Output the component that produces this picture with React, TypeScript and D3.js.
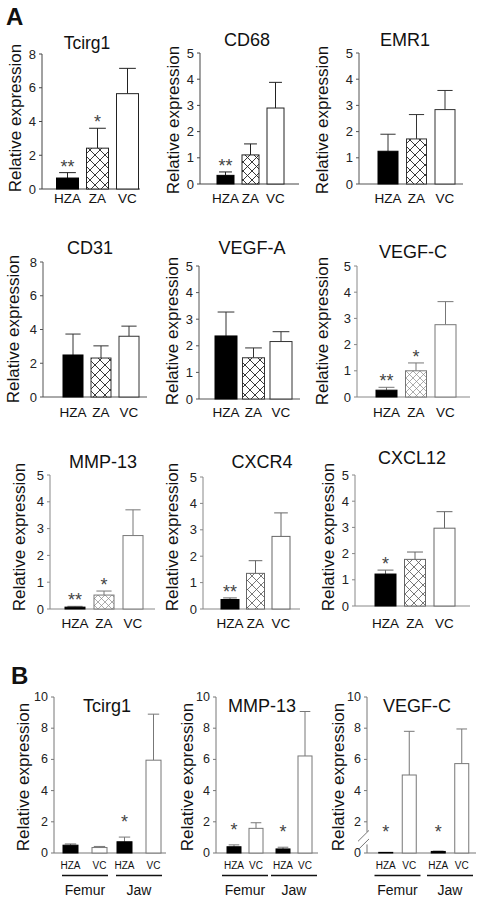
import React from "react";
import * as d3 from "d3";

// ---------- DATA ----------
const groupsA = ["HZA", "ZA", "VC"];

const tcirg1Mean = [0.65, 2.42, 5.65];
const tcirg1Sem = [0.32, 1.18, 1.5];
const tcirg1Sig = ["**", "*", ""];

const cd68Mean = [0.33, 1.11, 2.9];
const cd68Sem = [0.13, 0.42, 0.98];
const cd68Sig = ["**", "", ""];

const emr1Mean = [1.25, 1.72, 2.84];
const emr1Sem = [0.65, 0.93, 0.73];
const emr1Sig = ["", "", ""];

const cd31Mean = [2.49, 2.31, 3.6];
const cd31Sem = [1.24, 0.72, 0.6];
const cd31Sig = ["", "", ""];

const vegfaMean = [2.37, 1.55, 2.16];
const vegfaSem = [0.9, 0.37, 0.37];
const vegfaSig = ["", "", ""];

const vegfcMean = [0.26, 1.0, 2.76];
const vegfcSem = [0.11, 0.3, 0.88];
const vegfcSig = ["**", "*", ""];

const mmp13Mean = [0.07, 0.52, 2.74];
const mmp13Sem = [0.03, 0.15, 0.96];
const mmp13Sig = ["**", "*", ""];

const cxcr4Mean = [0.36, 1.35, 2.75];
const cxcr4Sem = [0.06, 0.48, 0.89];
const cxcr4Sig = ["**", "", ""];

const cxcl12Mean = [1.22, 1.78, 2.97];
const cxcl12Sem = [0.15, 0.28, 0.63];
const cxcl12Sig = ["*", "", ""];

const ticks8 = [0, 2, 4, 6, 8];
const ticks5 = [0, 1, 2, 3, 4, 5];
const ticks10 = [0, 2, 4, 6, 8, 10];

const sitesB = ["Femur", "Jaw"];
const groupsB = ["HZA", "VC"];

const tcirg1BMean = [0.5, 0.35, 0.72, 5.95];
const tcirg1BSem = [0.08, 0.07, 0.3, 2.95];
const tcirg1BSig = ["", "", "*", ""];

const mmp13BMean = [0.4, 1.58, 0.26, 6.22];
const mmp13BSem = [0.12, 0.36, 0.11, 2.85];
const mmp13BSig = ["*", "", "*", ""];

const vegfcBMean = [0.04, 5.0, 0.1, 5.73];
const vegfcBSem = [0.0, 2.8, 0.02, 2.22];
const vegfcBSig = ["*", "", "*", ""];

// ---------- LAYOUT ----------
type PanelA = {
  title: string; mean: number[]; sem: number[]; sig: string[];
  max: number; ticks: number[];
  ax: number; y0: number; yTop: number; xEnd: number;
  c0: number; step: number; bw: number;
  tx: number; ty: number; tsize: number;
  lx: number; ly: number; catY: number;
  hatch: string; ink: string; axisInk: string;
};

const FONT = "'Liberation Sans', Arial, Helvetica, sans-serif";

const panelsA: PanelA[] = [
  { title: "Tcirg1", mean: tcirg1Mean, sem: tcirg1Sem, sig: tcirg1Sig, max: 8, ticks: ticks8,
    ax: 42, y0: 189, yTop: 54, xEnd: 140, c0: 67.5, step: 30, bw: 22,
    tx: 87, ty: 49, tsize: 17.5, lx: 15, ly: 118, catY: 203, hatch: "hA", ink: "#222", axisInk: "#444" },
  { title: "CD68", mean: cd68Mean, sem: cd68Sem, sig: cd68Sig, max: 5, ticks: ticks5,
    ax: 200, y0: 184, yTop: 53, xEnd: 299, c0: 225.5, step: 25, bw: 17,
    tx: 247, ty: 46, tsize: 18, lx: 173, ly: 120, catY: 203, hatch: "hB", ink: "#222", axisInk: "#444" },
  { title: "EMR1", mean: emr1Mean, sem: emr1Sem, sig: emr1Sig, max: 5, ticks: ticks5,
    ax: 359, y0: 184, yTop: 53, xEnd: 463, c0: 388, step: 28.5, bw: 20,
    tx: 405, ty: 46, tsize: 18, lx: 322, ly: 120, catY: 203, hatch: "hA", ink: "#333", axisInk: "#555" },
  { title: "CD31", mean: cd31Mean, sem: cd31Sem, sig: cd31Sig, max: 8, ticks: ticks8,
    ax: 43, y0: 397, yTop: 262, xEnd: 147, c0: 73, step: 28, bw: 20,
    tx: 90, ty: 254, tsize: 18, lx: 13, ly: 329, catY: 417, hatch: "hA", ink: "#333", axisInk: "#555" },
  { title: "VEGF-A", mean: vegfaMean, sem: vegfaSem, sig: vegfaSig, max: 5, ticks: ticks5,
    ax: 199, y0: 399, yTop: 266, xEnd: 300, c0: 226, step: 27.5, bw: 22,
    tx: 252, ty: 254, tsize: 18, lx: 172, ly: 331, catY: 417, hatch: "hA", ink: "#333", axisInk: "#555" },
  { title: "VEGF-C", mean: vegfcMean, sem: vegfcSem, sig: vegfcSig, max: 5, ticks: ticks5,
    ax: 357, y0: 397, yTop: 266, xEnd: 470, c0: 386.5, step: 29.5, bw: 21,
    tx: 413, ty: 258, tsize: 18, lx: 322, ly: 331, catY: 417, hatch: "hC", ink: "#777", axisInk: "#888" },
  { title: "MMP-13", mean: mmp13Mean, sem: mmp13Sem, sig: mmp13Sig, max: 5, ticks: ticks5,
    ax: 50, y0: 609, yTop: 475, xEnd: 155, c0: 75, step: 29, bw: 20,
    tx: 103, ty: 468, tsize: 18, lx: 19, ly: 537, catY: 628, hatch: "hC", ink: "#777", axisInk: "#888" },
  { title: "CXCR4", mean: cxcr4Mean, sem: cxcr4Sem, sig: cxcr4Sig, max: 5, ticks: ticks5,
    ax: 203, y0: 609, yTop: 477, xEnd: 300, c0: 230, step: 25.5, bw: 18,
    tx: 262, ty: 468, tsize: 18, lx: 172, ly: 537, catY: 628, hatch: "hD", ink: "#666", axisInk: "#888" },
  { title: "CXCL12", mean: cxcl12Mean, sem: cxcl12Sem, sig: cxcl12Sig, max: 5, ticks: ticks5,
    ax: 355, y0: 606, yTop: 475, xEnd: 470, c0: 385.5, step: 29.5, bw: 21,
    tx: 412, ty: 464, tsize: 18, lx: 328, ly: 537, catY: 628, hatch: "hD", ink: "#666", axisInk: "#888" },
];

type PanelB = {
  title: string; mean: number[]; sem: number[]; sig: string[];
  ax: number; xEnd: number; g0: number; g1: number; inner: number; bw: number; lineHalf: number;
  tx: number; lx: number; brk?: boolean;
};

const B_Y0 = 853, B_TOP = 697;

const panelsB: PanelB[] = [
  { title: "Tcirg1", mean: tcirg1BMean, sem: tcirg1BSem, sig: tcirg1BSig,
    ax: 54, xEnd: 166, g0: 85, g1: 139, inner: 29, bw: 15, lineHalf: 23, tx: 107, lx: 23 },
  { title: "MMP-13", mean: mmp13BMean, sem: mmp13BSem, sig: mmp13BSig,
    ax: 216, xEnd: 318, g0: 245, g1: 294, inner: 22, bw: 14, lineHalf: 23, tx: 262, lx: 187 },
  { title: "VEGF-C", mean: vegfcBMean, sem: vegfcBSem, sig: vegfcBSig,
    ax: 367, xEnd: 476, g0: 397.5, g1: 450, inner: 23.5, bw: 14, lineHalf: 23, tx: 417, lx: 338, brk: true },
];

function PanelAView({ p }: { p: PanelA }) {
  const y = d3.scaleLinear().domain([0, p.max]).range([p.y0, p.yTop]);
  const x = d3.scaleBand<string>()
    .domain(groupsA)
    .range([p.c0 - p.step / 2, p.c0 + 2.5 * p.step])
    .paddingInner(1 - p.bw / p.step)
    .paddingOuter((1 - p.bw / p.step) / 2);
  const bw = x.bandwidth();
  const fills = ["#000", `url(#${p.hatch})`, "#fff"];
  return (
    <g>
      <text x={p.tx} y={p.ty} textAnchor="middle" fontSize={p.tsize} fill="#111">{p.title}</text>
      <text transform={`translate(${p.lx},${p.ly}) rotate(-90)`} textAnchor="middle"
        dominantBaseline="central" fontSize={17} fill="#111">Relative expression</text>
      <line x1={p.ax} x2={p.ax} y1={p.yTop} y2={p.y0} stroke={p.axisInk} />
      <line x1={p.ax} x2={p.xEnd} y1={p.y0} y2={p.y0} stroke={p.axisInk} />
      {p.ticks.map((t) => (
        <g key={t}>
          <line x1={p.ax - 3} x2={p.ax} y1={y(t)} y2={y(t)} stroke={p.axisInk} />
          <text x={p.ax - 6} y={y(t)} textAnchor="end" dominantBaseline="central" fontSize={13} fill="#222">{t}</text>
        </g>
      ))}
      {groupsA.map((g, i) => {
        const x0 = x(g)!;
        const cx = x0 + bw / 2;
        const top = y(p.mean[i]);
        const et = y(p.mean[i] + p.sem[i]);
        const cap = bw * 0.38;
        return (
          <g key={g}>
            <line x1={cx} x2={cx} y1={top} y2={et} stroke={p.ink} />
            <line x1={cx - cap} x2={cx + cap} y1={et} y2={et} stroke={p.ink} />
            <rect x={x0} y={top} width={bw} height={p.y0 - top} fill={fills[i]} stroke={i === 0 ? "#000" : p.ink} />
            {p.sig[i] && (
              <text x={cx} y={et} textAnchor="middle" fontSize={18} fill="#444">{p.sig[i]}</text>
            )}
            <text x={cx} y={p.catY} textAnchor="middle" fontSize={13.5} fill="#111">{g}</text>
          </g>
        );
      })}
    </g>
  );
}

function PanelBView({ p }: { p: PanelB }) {
  const y = d3.scaleLinear().domain([0, 10]).range([B_Y0, B_TOP]);
  const site = d3.scaleOrdinal<string, number>().domain(sitesB).range([p.g0, p.g1]);
  const inner = d3.scalePoint<string>().domain(groupsB).range([-p.inner / 2, p.inner / 2]);
  const items = sitesB.flatMap((s) => groupsB.map((g) => ({ s, g })));
  return (
    <g>
      <text x={p.tx} y={712} textAnchor="middle" fontSize={18} fill="#111">{p.title}</text>
      <text transform={`translate(${p.lx},${(B_Y0 + B_TOP) / 2 + 2}) rotate(-90)`} textAnchor="middle"
        dominantBaseline="central" fontSize={17} fill="#111">Relative expression</text>
      <line x1={p.ax} x2={p.ax} y1={B_TOP} y2={B_Y0} stroke="#777" />
      <line x1={p.ax} x2={p.xEnd} y1={B_Y0} y2={B_Y0} stroke="#777" />
      {ticks10.map((t) => (
        <g key={t}>
          <line x1={p.ax - 3} x2={p.ax} y1={y(t)} y2={y(t)} stroke="#777" />
          <text x={p.ax - 6} y={y(t)} textAnchor="end" dominantBaseline="central" fontSize={12.5} fill="#222">{t}</text>
        </g>
      ))}
      {p.brk && (
        <g>
          <line x1={p.ax} x2={p.ax} y1={y(0.55)} y2={y(1.35)} stroke="#fff" strokeWidth={3} />
          <line x1={p.ax - 9} x2={p.ax + 2} y1={y(0.2)} y2={y(0.9)} stroke="#777" />
          <line x1={p.ax - 9} x2={p.ax + 2} y1={y(0.75)} y2={y(1.45)} stroke="#777" />
        </g>
      )}
      {items.map((d, i) => {
        const cx = site(d.s) + inner(d.g)!;
        const top = y(p.mean[i]);
        const et = y(p.mean[i] + p.sem[i]);
        const cap = p.bw * 0.38;
        return (
          <g key={i}>
            {p.sem[i] > 0 && <line x1={cx} x2={cx} y1={top} y2={et} stroke="#777" />}
            {p.sem[i] > 0 && <line x1={cx - cap} x2={cx + cap} y1={et} y2={et} stroke="#777" />}
            <rect x={cx - p.bw / 2} y={top} width={p.bw} height={B_Y0 - top}
              fill={d.g === "HZA" ? "#000" : "#fff"} stroke={d.g === "HZA" ? "#000" : "#777"} />
            {p.sig[i] && (
              <text x={cx} y={Math.min(et, B_Y0 - 6) - 9} textAnchor="middle" fontSize={18} fill="#444">{p.sig[i]}</text>
            )}
            <text x={cx} y={868.5} textAnchor="middle" fontSize={10} fill="#111">{d.g}</text>
          </g>
        );
      })}
      {sitesB.map((s) => (
        <g key={s}>
          <line x1={site(s) - p.lineHalf} x2={site(s) + p.lineHalf} y1={875.5} y2={875.5} stroke="#111" strokeWidth={1.6} />
          <text x={site(s)} y={895} textAnchor="middle" fontSize={14} fill="#111">{s}</text>
        </g>
      ))}
    </g>
  );
}

function Hatch({ id, size, color, w }: { id: string; size: number; color: string; w: number }) {
  return (
    <pattern id={id} patternUnits="userSpaceOnUse" width={size} height={size}>
      <rect width={size} height={size} fill="#fff" />
      <path d={`M0,0L${size},${size}M${size},0L0,${size}`} stroke={color} strokeWidth={w} />
    </pattern>
  );
}

export default function App() {
  return (
    <svg width={491} height={902} style={{ position: "absolute", left: 0, top: 0, background: "#fff" }}
      fontFamily={FONT}>
      <defs>
        <Hatch id="hA" size={10} color="#222" w={0.9} />
        <Hatch id="hB" size={9} color="#222" w={0.9} />
        <Hatch id="hC" size={7} color="#888" w={0.7} />
        <Hatch id="hD" size={9} color="#555" w={0.8} />
      </defs>
      <rect width={491} height={902} fill="#fff" />
      <text x={6} y={25} fontSize={24} fontWeight="bold" fill="#111">A</text>
      <text x={11} y={684} fontSize={24} fontWeight="bold" fill="#111">B</text>
      {panelsA.map((p) => <PanelAView key={p.title + p.ax} p={p} />)}
      {panelsB.map((p) => <PanelBView key={"B" + p.title} p={p} />)}
    </svg>
  );
}
